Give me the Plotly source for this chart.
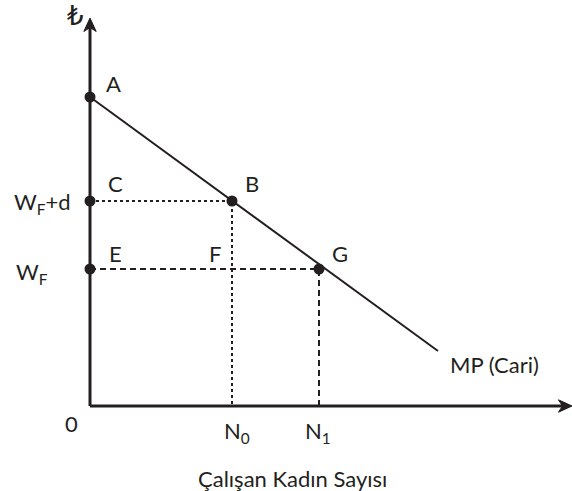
import plotly.graph_objects as go

# Data (arbitrary economic units)
mp_x = [0, 34.8]          # MP (Cari) line endpoints
mp_y = [30.9, 5.5]
pt_names = ["A", "B", "G", "C", "E"]
pt_x = [0, 14.2, 22.9, 0, 0]
pt_y = [30.9, 20.5, 13.7, 20.5, 13.7]
x_ticks = ["N<sub>0</sub>", "N<sub>1</sub>"]
x_tick_vals = [14.2, 22.9]
y_ticks = ["W<sub>F</sub>+d", "W<sub>F</sub>"]
y_tick_vals = [20.5, 13.7]
x_axis_end = 48.2
y_axis_end = 38.8

INK = "#231f20"
FONT = "Lato"

fig = go.Figure()

fig.add_trace(go.Scatter(x=mp_x, y=mp_y, mode="lines",
                         line=dict(color=INK, width=2), hoverinfo="skip"))
fig.add_trace(go.Scatter(x=[0, x_tick_vals[0], x_tick_vals[0]],
                         y=[y_tick_vals[0], y_tick_vals[0], 0], mode="lines",
                         line=dict(color=INK, width=2, dash="dot"), hoverinfo="skip"))
fig.add_trace(go.Scatter(x=[0, x_tick_vals[1], x_tick_vals[1]],
                         y=[y_tick_vals[1], y_tick_vals[1], 0], mode="lines",
                         line=dict(color=INK, width=2, dash="6px,4px"), hoverinfo="skip"))

# axes lines with arrowheads
hl, hw, notch = 1.35, 0.62, 0.95
fig.add_shape(type="line", x0=0, y0=0, x1=x_axis_end - notch, y1=0,
              line=dict(color=INK, width=3), layer="above")
fig.add_shape(type="line", x0=0, y0=0, x1=0, y1=y_axis_end - notch,
              line=dict(color=INK, width=3), layer="above")
X, Y = x_axis_end, y_axis_end
fig.add_shape(type="path", layer="above", fillcolor=INK, line=dict(color=INK, width=1),
              path=f"M{X},0 L{X-hl},{hw} L{X-notch},0 L{X-hl},{-hw} Z")
fig.add_shape(type="path", layer="above", fillcolor=INK, line=dict(color=INK, width=1),
              path=f"M0,{Y} L{hw},{Y-hl} L0,{Y-notch} L{-hw},{Y-hl} Z")

fig.add_trace(go.Scatter(x=pt_x, y=pt_y, mode="markers",
                         marker=dict(color=INK, size=11), hoverinfo="skip"))

fs = 22
def lab(x, y, t, xanchor="center", yanchor="middle", size=fs, family=FONT):
    fig.add_annotation(x=x, y=y, xref="x", yref="y", text=t, showarrow=False,
                       xanchor=xanchor, yanchor=yanchor,
                       font=dict(family=family, size=size, color=INK))

lab(2.3, 32.3, "A")
lab(2.5, 22.3, "C")
lab(2.5, 15.3, "E")
lab(16.2, 22.3, "B")
lab(12.5, 15.3, "F")
lab(25.0, 15.3, "G")
lab(-4.8, 20.3, y_ticks[0])
lab(-5.8, 13.3, y_ticks[1])
lab(-1.9, -1.7, "0")
lab(x_tick_vals[0] + 0.5, -2.6, x_ticks[0])
lab(x_tick_vals[1] - 0.1, -2.6, x_ticks[1])
lab(40.4, 4.2, "MP (Cari)")
lab(-1.5, 39.0, "₺", family="DejaVu Sans", size=26)
lab(20.2, -7.2, "Çalışan Kadın Sayısı")

fig.update_layout(
    width=572, height=491, margin=dict(l=0, r=0, t=0, b=0),
    plot_bgcolor="white", paper_bgcolor="white", showlegend=False,
    xaxis=dict(range=[-9.0, 48.2], visible=False, fixedrange=True),
    yaxis=dict(range=[-8.5, 40.6], visible=False, fixedrange=True),
)
fig.write_html("out.html", config={"displayModeBar": False},
               post_script="document.body.style.margin='0';")
